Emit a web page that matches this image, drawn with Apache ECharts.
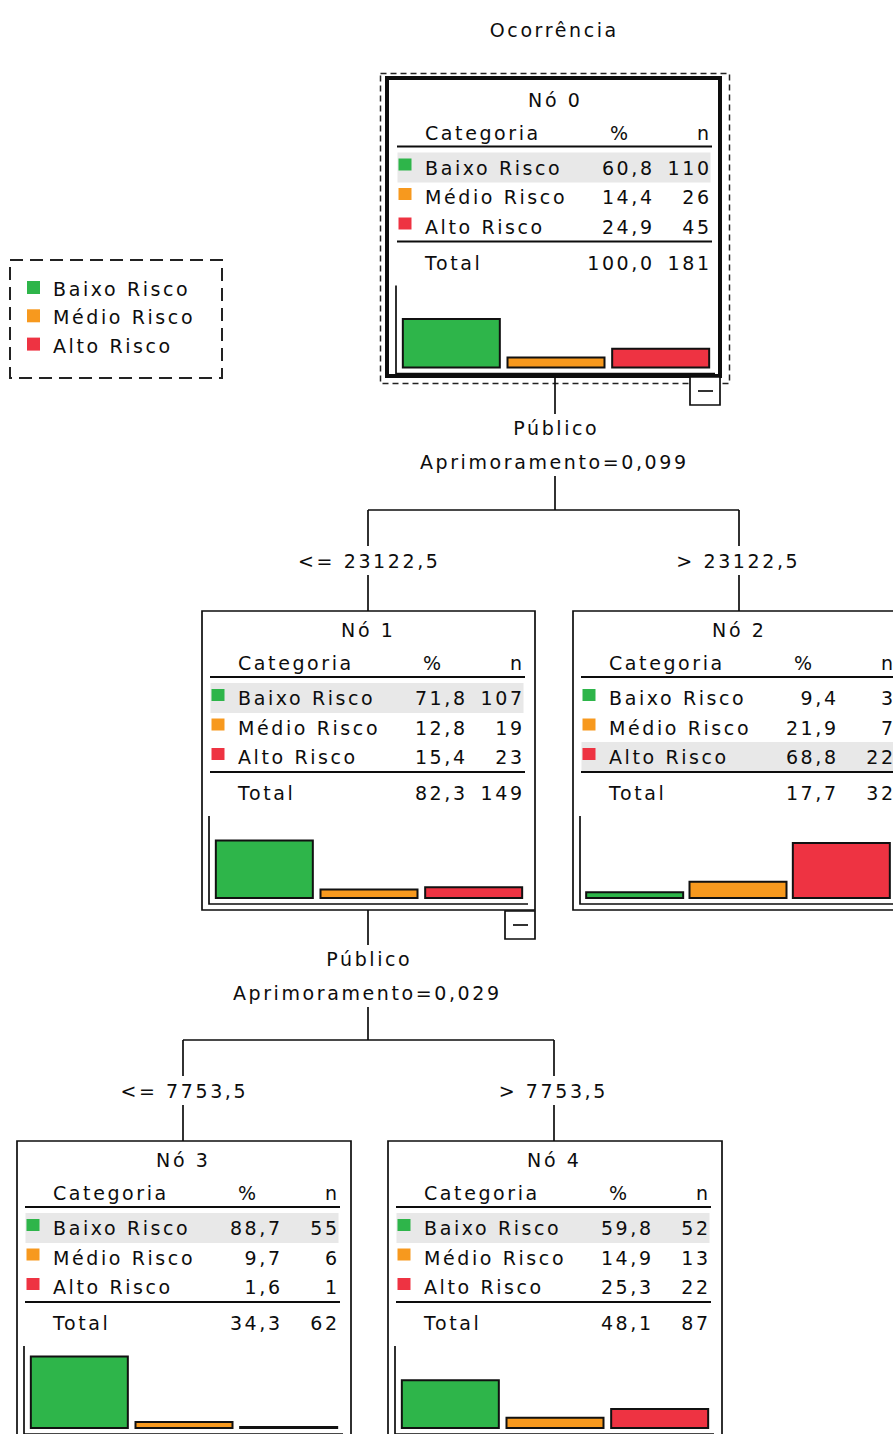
<!DOCTYPE html>
<html><head><meta charset="utf-8">
<script src="https://cdn.jsdelivr.net/npm/echarts@6/dist/echarts.min.js"></script>
<style>
html,body{margin:0;padding:0;background:#fff;}
#chart{width:893px;height:1434px;}
#chart text{letter-spacing:2.6px;}
</style>
</head><body><div id="chart"></div>
<script>
// ---------------- data ----------------
const chartTitle = 'Ocorrência';
const categories = ['Baixo Risco', 'Médio Risco', 'Alto Risco'];
const categoryColors = ['#2eb54a', '#f7991e', '#ee3342'];
const nodeNames = ['Nó 0', 'Nó 1', 'Nó 2', 'Nó 3', 'Nó 4'];
const node0Pct = [60.8, 14.4, 24.9];
const node0N = [110, 26, 45];
const node1Pct = [71.8, 12.8, 15.4];
const node1N = [107, 19, 23];
const node2Pct = [9.4, 21.9, 68.8];
const node2N = [3, 7, 22];
const node3Pct = [88.7, 9.7, 1.6];
const node3N = [55, 6, 1];
const node4Pct = [59.8, 14.9, 25.3];
const node4N = [52, 13, 22];
const totalPct = [100.0, 82.3, 17.7, 34.3, 48.1];
const totalN = [181, 149, 32, 62, 87];
const splitVariable = ['Público', 'Público'];
const splitImprovement = ['0,099', '0,029'];
const splitLeftLabel = ['<= 23122,5', '<= 7753,5'];
const splitRightLabel = ['> 23122,5', '> 7753,5'];
const headerLabels = ['Categoria', '%', 'n'];
const totalLabel = 'Total';

const nodePct = [node0Pct, node1Pct, node2Pct, node3Pct, node4Pct];
const nodeN = [node0N, node1N, node2N, node3N, node4N];

// ---------------- layout ----------------
const LS = 2.6; // css letter spacing
const FONT = '19px "DejaVu Sans"';
const INK = '#0d0d0d';
const layout = [
  {ox: 389, oy: 80.5, frame: [387, 78, 333, 298], lw: 4, minus: true},
  {ox: 202, oy: 611, frame: [202, 611, 333, 299], lw: 1.7, minus: true},
  {ox: 573, oy: 611, frame: [573, 611, 333, 299], lw: 1.7},
  {ox: 17, oy: 1141, frame: [17, 1141, 334, 299], lw: 1.7},
  {ox: 388, oy: 1141, frame: [388, 1141, 334, 299], lw: 1.7}
];
const splits = [
  {parent: 0, left: 1, right: 2, varY: 428, impY: 462},
  {parent: 1, left: 3, right: 4, varY: 959, impY: 993}
];

const fmt = v => v.toFixed(1).replace('.', ',');

function txt(s, x, y, align) {
  let dx = 0;
  if (align === 'right') dx = LS;
  else if (align === 'center') dx = LS / 2;
  return {
    type: 'text', z: 10, silent: true,
    style: {
      text: s, x: x + dx, y: y, font: FONT, fill: INK,
      align: align || 'left', verticalAlign: 'middle',
      textAlign: align || 'left', textVerticalAlign: 'middle'
    }
  };
}
function line(x1, y1, x2, y2, w) {
  return {
    type: 'line', z: 5, silent: true,
    shape: {x1, y1, x2, y2},
    style: {stroke: INK, lineWidth: w || 1.7}
  };
}
function rect(x, y, w, h, style, z) {
  return {type: 'rect', z: z || 5, silent: true, shape: {x, y, width: w, height: h}, style};
}

const graphics = [];
graphics.push(txt(chartTitle, 553, 30, 'center'));

// legend
graphics.push(rect(10, 260, 212, 118, {fill: 'none', stroke: '#222', lineWidth: 2, lineDash: [13, 7]}));
categories.forEach((c, i) => {
  graphics.push(rect(27, 281 + i * 28.3, 13, 13, {fill: categoryColors[i]}));
  graphics.push(txt(c, 53, 289 + i * 28.3, 'left'));
});

// selection around node 0
graphics.push(rect(380.5, 73.5, 349, 310, {fill: 'none', stroke: '#222', lineWidth: 1.5, lineDash: [6, 4]}));

const grids = [], xAxes = [], yAxes = [], series = [];

layout.forEach((L, k) => {
  const {ox, oy} = L;
  const f = L.frame;
  graphics.push(rect(f[0], f[1], f[2], f[3], {fill: 'none', stroke: INK, lineWidth: L.lw}));
  if (L.minus) {
    const bx = f[0] + f[2] - 30, by = f[1] + f[3] + 1;
    graphics.push(rect(bx, by, 30, 28, {fill: '#fff', stroke: INK, lineWidth: 1.7}));
    graphics.push(line(bx + 8, by + 14, bx + 23, by + 14, 1.7));
  }
  graphics.push(txt(nodeNames[k], ox + 165, oy + 19, 'center'));
  graphics.push(txt(headerLabels[0], ox + 36, oy + 52, 'left'));
  graphics.push(txt(headerLabels[1], ox + 230, oy + 52, 'center'));
  graphics.push(txt(headerLabels[2], ox + 320, oy + 52, 'right'));
  graphics.push(line(ox + 8, oy + 66, ox + 323, oy + 66, 2));
  const pct = nodePct[k], n = nodeN[k];
  const modal = pct.indexOf(Math.max(...pct));
  const rowY = [87, 116.5, 146];
  graphics.push(rect(ox + 8.5, oy + rowY[modal] - 15, 313, 30, {fill: '#e8e8e8'}, 1));
  categories.forEach((c, i) => {
    graphics.push(rect(ox + 9.5, oy + rowY[i] - 9, 13, 12, {fill: categoryColors[i]}));
    graphics.push(txt(c, ox + 36, oy + rowY[i], 'left'));
    graphics.push(txt(fmt(pct[i]), ox + 263, oy + rowY[i], 'right'));
    graphics.push(txt(String(n[i]), ox + 320, oy + rowY[i], 'right'));
  });
  graphics.push(line(ox + 8, oy + 161, ox + 323, oy + 161, 2));
  graphics.push(txt(totalLabel, ox + 36, oy + 182, 'left'));
  graphics.push(txt(fmt(totalPct[k]), ox + 263, oy + 182, 'right'));
  graphics.push(txt(String(totalN[k]), ox + 320, oy + 182, 'right'));
  // histogram frame (L shape)
  graphics.push({
    type: 'polyline', z: 5, silent: true,
    shape: {points: [[ox + 7, oy + 205], [ox + 7, oy + 293], [ox + 326, oy + 293]]},
    style: {stroke: INK, lineWidth: 1.7, fill: 'none'}
  });
  grids.push({left: ox + 10, top: oy + 205, width: 314, height: 83, containLabel: false});
  xAxes.push({type: 'category', gridIndex: k, data: categories, show: false, boundaryGap: true});
  yAxes.push({type: 'value', gridIndex: k, min: 0, max: 100, show: false});
  series.push({
    type: 'bar', xAxisIndex: k, yAxisIndex: k, barWidth: 99, barMinHeight: 3, silent: true,
    data: pct.map((v, i) => ({value: v, itemStyle: {color: categoryColors[i], borderColor: '#111', borderWidth: 2}}))
  });
});

// split connectors
splits.forEach((s, j) => {
  const P = layout[s.parent], A = layout[s.left], B = layout[s.right];
  const px = P.ox + 166, ax = A.ox + 166, bx = B.ox + 166;
  const pb = P.frame[1] + P.frame[3];
  const ct = A.frame[1];
  graphics.push(line(px, pb, px, s.varY - 14));
  graphics.push(txt(splitVariable[j], px, s.varY, 'center'));
  graphics.push(txt('Aprimoramento=' + splitImprovement[j], px - 2, s.impY, 'center'));
  const hy = ct - 101;
  graphics.push(line(px, s.impY + 14, px, hy));
  graphics.push(line(ax, hy, bx, hy));
  graphics.push(line(ax, hy, ax, hy + 36));
  graphics.push(line(bx, hy, bx, hy + 36));
  graphics.push(txt(splitLeftLabel[j], ax, hy + 51, 'center'));
  graphics.push(txt(splitRightLabel[j], bx - 2, hy + 51, 'center'));
  graphics.push(line(ax, hy + 65, ax, ct));
  graphics.push(line(bx, hy + 65, bx, ct));
});

const chart = echarts.init(document.getElementById('chart'), null, {renderer: 'svg', width: 893, height: 1434});
chart.setOption({
  animation: false,
  backgroundColor: '#fff',
  grid: grids,
  xAxis: xAxes,
  yAxis: yAxes,
  series: series,
  graphic: {elements: graphics}
});
</script></body></html>
